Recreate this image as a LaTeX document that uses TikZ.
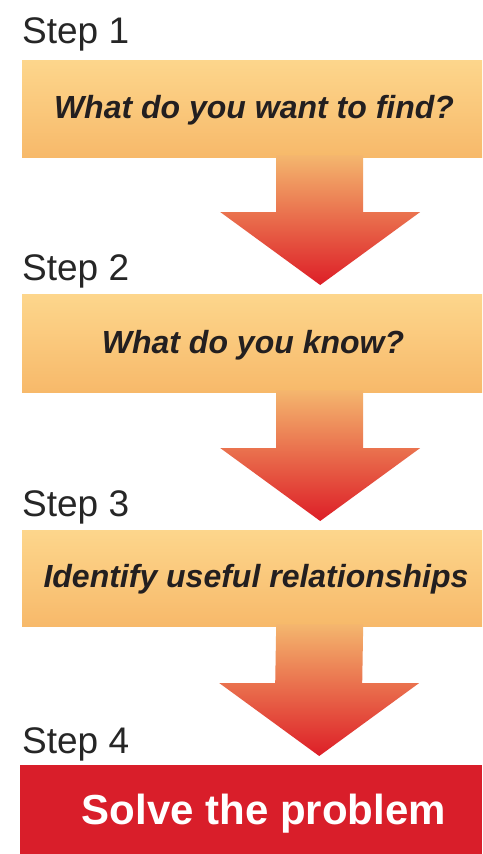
\documentclass[tikz,border=0pt]{standalone}
\usepackage{fontspec}
\setmainfont{Liberation Sans}
\usetikzlibrary{calc}
\definecolor{boxtop}{HTML}{FDD68C}
\definecolor{boxbot}{HTML}{F7B96A}
\definecolor{arrtop}{HTML}{F4B66E}
\definecolor{arrmid}{HTML}{EE8A48}
\definecolor{arrbot}{HTML}{DD1E27}
\definecolor{solvered}{HTML}{D91E2A}
\definecolor{txtdark}{HTML}{231F20}
\tikzset{
  stepbox/.style={anchor=north west, inner sep=0pt, minimum width=460pt,
    top color=boxtop, bottom color=boxbot, draw=none},
  solvebox/.style={anchor=north west, inner sep=0pt, minimum width=462pt,
    fill=solvered, draw=none},
  steplabel/.style={anchor=base west, inner sep=0pt, text=black!85,
    font=\fontsize{37}{37}\selectfont},
  boxtext/.style={anchor=base, inner sep=0pt, text=txtdark,
    font=\fontsize{32}{32}\selectfont\bfseries\itshape},
  solvetext/.style={anchor=base, inner sep=0pt, text=white,
    font=\fontsize{42}{42}\selectfont\bfseries},
  blockarrow/.style={top color=arrtop, middle color=arrmid, bottom color=arrbot, draw=none}
}
\newcommand{\downblock}[2]{%
  \coordinate (tip#1) at ($(#2.north)+(68,-9)$);
  \shade[blockarrow] ($(#1.south)+(24,-2)$) -- ($(#1.south)+(111,-2)$)
    -- ($(tip#1)+(43,-73)$) -- ($(tip#1)+(100,-73)$) -- (tip#1)
    -- ($(tip#1)+(-100,-73)$) -- ($(tip#1)+(-44,-73)$) -- cycle;
}
\begin{document}
\begin{tikzpicture}[x=1pt,y=-1pt]
\useasboundingbox (0,0) rectangle (482,854);
\fill[white] (0,0) rectangle (482,854);

% boxes
\node[stepbox, minimum height=97pt] (b1) at (22,60) {};
\node[stepbox, minimum height=98pt] (b2) at (22,294) {};
\node[stepbox, minimum height=96pt] (b3) at (22,530) {};
\node[solvebox, minimum height=89pt] (b4) at (20,765) {};

% arrows
\downblock{b1}{b2}
\downblock{b2}{b3}
\downblock{b3}{b4}

% step labels
\node[steplabel] (s1) at (22,43) {Step 1};
\node[steplabel] (s2) at (22,280) {Step 2};
\node[steplabel] (s3) at (22,516) {Step 3};
\node[steplabel] (s4) at (22,753) {Step 4};

% box texts
\node[boxtext] (t1) at (254,118) {What do you want to find?};
\node[boxtext] (t2) at (253,353) {What do you know?};
\node[boxtext] (t3) at (256,587) {Identify useful relationships};
\node[solvetext] (t4) at (264,824) {Solve the problem};
\end{tikzpicture}
\end{document}
